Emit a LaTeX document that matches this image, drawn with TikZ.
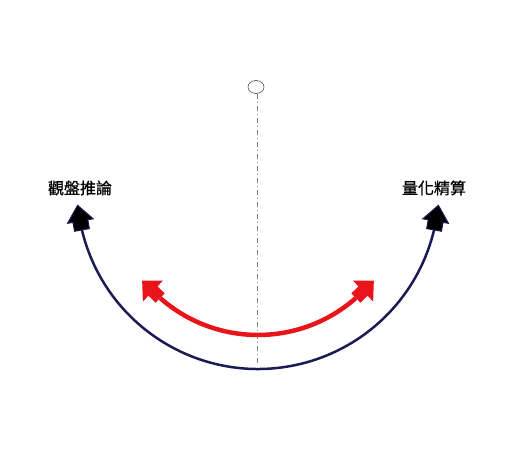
\documentclass[tikz,border=0pt]{standalone}
\usepackage{fontspec}
\usepackage{tikz}
\newfontfamily\cjk[FakeBold=0.8]{Noto Sans CJK TC}
\usetikzlibrary{shapes.geometric}
\definecolor{navyline}{RGB}{28,26,82}
\definecolor{redline}{RGB}{232,20,26}
\definecolor{axisgray}{RGB}{120,135,150}
\tikzset{pics/bighead/.style = {code = {
             \draw [navyline, fill = black, line width = 1pt, line join = miter]
                 (0, -7.5) -- (9, -7.5) -- (9, -13) -- (25, 0) -- (9, 13) -- (9, 7.5) -- (0, 7.5) -- cycle;}},
         pics/redhead/.style = {code = {
             \fill [redline]
                 (0, -6.5) -- (10, -6.5) -- (10, -14.5) -- (25, 0) -- (10, 14.5) -- (10, 6.5) -- (0, 6.5) -- cycle;}},
         label/.style = {font = \cjk\fontsize{16pt}{18pt}\selectfont}}

\begin{document}
\begin{tikzpicture}[x = 1pt, y = 1pt]
    \useasboundingbox [fill = white] (0, 0) rectangle (512, 457);

    % axis with the little ring on top
    \node (ring) [ellipse, draw = black!70, line width = 0.6pt, minimum width = 16pt,
                  minimum height = 13pt, inner sep = 0pt] at (256, 370) {};
    \coordinate (axisend) at (257, 92);
    \draw [axisgray, line width = 0.7pt, dash pattern = on 5pt off 3pt on 1pt off 3pt]
        (ring.south) ++(1, 0) -- (axisend);

    % outer arc
    \coordinate (outerleft) at ({258 + 181*cos(193.4)}, {269 + 181*sin(193.4)});
    \coordinate (outerright) at ({258 + 181*cos(346.6)}, {269 + 181*sin(346.6)});
    \draw [navyline, line width = 2.5pt] (outerleft) arc [start angle = 193.4, end angle = 346.6, radius = 181];
    \pic [rotate = 100] at (outerleft) {bighead};
    \pic [rotate = 80] at (outerright) {bighead};

    % inner arc
    \coordinate (innerleft) at ({258 + 148*cos(228.6)}, {270 + 148*sin(228.6)});
    \coordinate (innerright) at ({258 + 148*cos(311.4)}, {270 + 148*sin(311.4)});
    \draw [redline, line width = 4.5pt] (innerleft) arc [start angle = 228.6, end angle = 311.4, radius = 148];
    \pic [rotate = 136] at (innerleft) {redhead};
    \pic [rotate = 44] at (innerright) {redhead};

    \node (guan) [label] at (80, 269) {觀盤推論};
    \node (liang) [label] at (434, 269) {量化精算};
  \end{tikzpicture}
\end{document}
